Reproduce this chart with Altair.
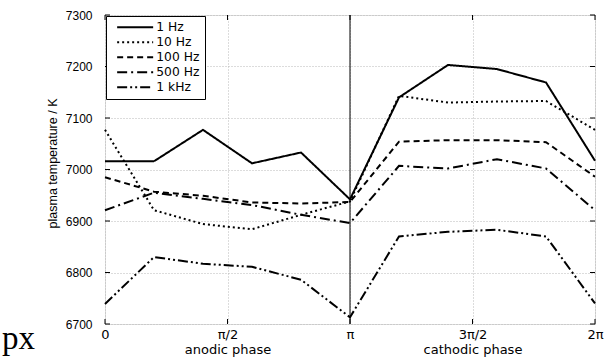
import altair as alt
import pandas as pd

# Phase positions in units of pi (0 .. 2 pi)
phase = [0.0, 0.2, 0.4, 0.6, 0.8, 1.0, 1.2, 1.4, 1.6, 1.8, 2.0]

# Plasma temperature (K) for each modulation frequency
t_1hz = [7016, 7016, 7077, 7012, 7033, 6942, 7140, 7203, 7195, 7169, 7017]
t_10hz = [7077, 6921, 6894, 6884, 6912, 6938, 7143, 7130, 7132, 7133, 7077]
t_100hz = [6985, 6957, 6949, 6936, 6934, 6937, 7054, 7057, 7057, 7053, 6986]
t_500hz = [6921, 6955, 6943, 6931, 6912, 6896, 7007, 7002, 7020, 7002, 6921]
t_1khz = [6739, 6830, 6817, 6811, 6786, 6713, 6870, 6879, 6883, 6870, 6740]

series = ["1 Hz", "10 Hz", "100 Hz", "500 Hz", "1 kHz"]
dashes = [[1, 0], [2, 3], [6, 4], [10, 4, 2, 4], [10, 3, 2, 3, 2, 3]]

y_ticks = [6700, 6800, 6900, 7000, 7100, 7200, 7300]
x_ticks = [0.0, 0.5, 1.0, 1.5, 2.0]
half_period = [1.0]

rows = []
for name, vals in zip(series, [t_1hz, t_10hz, t_100hz, t_500hz, t_1khz]):
    for p, v in zip(phase, vals):
        rows.append({"phase": p, "T": v, "freq": name})
df = pd.DataFrame(rows)

W, H = 490, 309
FONT = "Liberation Sans"
WIDE = "DejaVu Sans"

x_scale = alt.Scale(domain=[0, 2], nice=False, zero=False)
y_scale = alt.Scale(domain=[6700, 7300], nice=False, zero=False)

label_expr = (
    "datum.value == 0 ? '0' : datum.value == 0.5 ? ['π/2', 'anodic phase'] : "
    "datum.value == 1 ? 'π' : datum.value == 1.5 ? ['3π/2', 'cathodic phase'] : '2π'"
)

lines = alt.Chart(df).mark_line(color="black", strokeWidth=2).encode(
    x=alt.X(
        "phase:Q",
        scale=x_scale,
        axis=alt.Axis(
            values=x_ticks,
            labelExpr=label_expr,
            title=None,
            grid=True,
            gridDash=[1, 2],
            gridColor="#b8b8b8",
            gridWidth=1,
            ticks=False,
            domain=False,
            labelFlush=False,
            labelPadding=4,
            labelFont=WIDE,
            labelFontSize=13,
            labelColor="black",
            labelLineHeight=15,
        ),
    ),
    y=alt.Y(
        "T:Q",
        scale=y_scale,
        axis=alt.Axis(
            values=y_ticks,
            format="d",
            title="plasma temperature / K",
            titleFont=FONT,
            titleFontSize=12.5,
            titleFontWeight="normal",
            titleColor="black",
            titleX=-46,
            titleY=148,
            grid=True,
            gridDash=[1, 2],
            gridColor="#b8b8b8",
            gridWidth=1,
            ticks=False,
            domain=False,
            labelFlush=False,
            labelPadding=13,
            labelFont=FONT,
            labelFontSize=12,
            labelColor="black",
        ),
    ),
    strokeDash=alt.StrokeDash(
        "freq:N",
        sort=series,
        scale=alt.Scale(domain=series, range=dashes),
        legend=alt.Legend(
            title=None,
            orient="top-left",
            offset=1,
            fillColor="white",
            strokeColor="black",
            padding=5,
            rowPadding=2,
            symbolType="M0,0H18",
            symbolSize=16,
            symbolStrokeWidth=2,
            symbolStrokeColor="black",
            labelFont=WIDE,
            labelFontSize=12.3,
            labelColor="black",
            labelOffset=33,
        ),
    ),
)

# Vertical line marking the change from anodic to cathodic phase
pi_rule = alt.Chart(pd.DataFrame({"p": half_period})).mark_rule(
    color="black", strokeWidth=1
).encode(x=alt.X("p:Q", scale=x_scale))

# Inward tick marks on all four sides of the frame
ydf = pd.DataFrame({"v": y_ticks})
xdf = pd.DataFrame({"p": x_ticks})
tick_left = alt.Chart(ydf).mark_rule(color="black").encode(
    y=alt.Y("v:Q", scale=y_scale), x=alt.value(0), x2=alt.value(5)
)
tick_right = alt.Chart(ydf).mark_rule(color="black").encode(
    y=alt.Y("v:Q", scale=y_scale), x=alt.value(W - 5), x2=alt.value(W)
)
tick_bottom = alt.Chart(xdf).mark_rule(color="black").encode(
    x=alt.X("p:Q", scale=x_scale), y=alt.value(H - 5), y2=alt.value(H)
)
tick_top = alt.Chart(xdf).mark_rule(color="black").encode(
    x=alt.X("p:Q", scale=x_scale), y=alt.value(0), y2=alt.value(5)
)

px_text = alt.Chart(pd.DataFrame({"t": ["px"]})).mark_text(
    font="Liberation Serif", fontSize=33, align="left", baseline="alphabetic",
    color="black",
).encode(text="t:N", x=alt.value(-103), y=alt.value(334))

chart = alt.layer(
    lines, pi_rule, tick_left, tick_right, tick_bottom, tick_top, px_text
).properties(
    width=W,
    height=H,
    padding={"left": 105, "top": 15, "right": 9, "bottom": 38},
    autosize="none",
).configure_view(
    stroke="black", strokeWidth=1.3
).configure(background="white")

chart.save("out.html", embed_options={"renderer": "svg", "actions": False})
